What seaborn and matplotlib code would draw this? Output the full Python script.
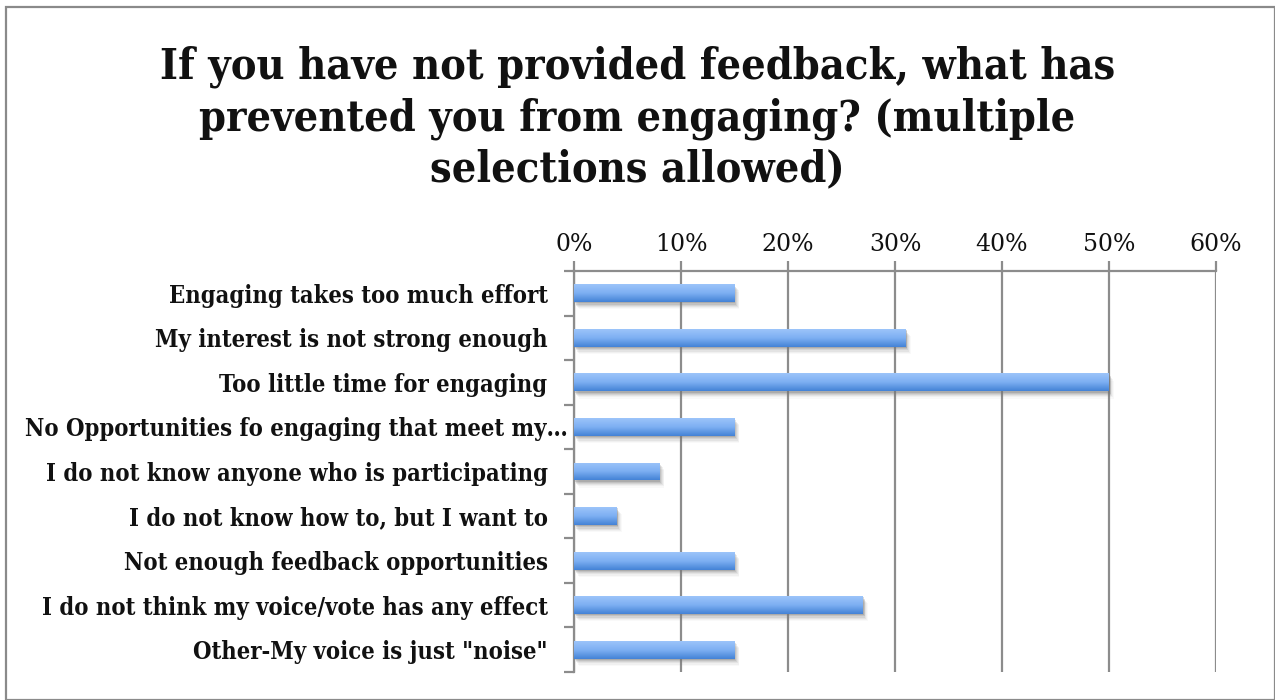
import numpy as np
import pandas as pd
import matplotlib
matplotlib.use("Agg")
import matplotlib.pyplot as plt
from matplotlib import font_manager
from matplotlib.patches import Rectangle
from matplotlib.ticker import FuncFormatter
import seaborn as sns

title = "If you have not provided feedback, what has\nprevented you from engaging? (multiple\nselections allowed)"
categories = [
    "Engaging takes too much effort",
    "My interest is not strong enough",
    "Too little time for engaging",
    "No Opportunities fo engaging that meet my…",
    "I do not know anyone who is participating",
    "I do not know how to, but I want to",
    "Not enough feedback opportunities",
    "I do not think my voice/vote has any effect",
    "Other-My voice is just \"noise\"",
]
shares = [0.15, 0.31, 0.50, 0.15, 0.08, 0.04, 0.15, 0.27, 0.15]
x_ticks = [0.0, 0.1, 0.2, 0.3, 0.4, 0.5, 0.6]

df = pd.DataFrame({"reason": categories, "share": shares})

sns.set_theme(style="white")
plt.rcParams["font.family"] = ["DejaVu Serif", "DejaVu Sans"]

cond = font_manager.FontProperties(family="DejaVu Serif", weight="bold", stretch="condensed")

fig = plt.figure(figsize=(12.75, 7.0), dpi=100)
ax = fig.add_axes([574 / 1275, 1 - 672 / 700, (1216 - 574) / 1275, (672 - 271) / 700])

sns.barplot(data=df, x="share", y="reason", orient="h", ax=ax,
            color="#6FA4EC", width=0.4, saturation=1, zorder=3, linewidth=0)

# vertical gradient fill with a soft drop shadow on every bar
grad = np.linspace(0, 1, 64).reshape(-1, 1)
cmap = matplotlib.colors.LinearSegmentedColormap.from_list(
    "bar", ["#9CC4FA", "#7DAFF2", "#4483D6"])
for bar in ax.patches:
    x0, y0 = bar.get_x(), bar.get_y()
    w, h = bar.get_width(), bar.get_height()
    for k, a in [(1, 0.28), (2, 0.2), (3, 0.15), (4, 0.1), (5, 0.07), (6, 0.04)]:
        off = matplotlib.transforms.ScaledTranslation(k * 0.008, -k * 0.012, fig.dpi_scale_trans)
        ax.add_patch(Rectangle((x0, y0), w, h, facecolor="#7a7a7a", edgecolor="none",
                               alpha=a, zorder=2, transform=ax.transData + off))
    im = ax.imshow(grad, cmap=cmap, aspect="auto", zorder=4,
                   extent=(x0, x0 + w, y0 + h, y0), interpolation="bilinear")
    im.set_clip_path(bar)
    bar.set_facecolor("none")
    bar.set_edgecolor("none")

ax.set_xlim(0, 0.6)
ax.set_xticks(x_ticks)
ax.xaxis.set_major_formatter(FuncFormatter(lambda v, p: f"{v * 100:.0f}%"))
ax.xaxis.tick_top()
ax.tick_params(axis="x", which="both", top=True, bottom=False, length=7, width=1.6,
               color="#8c8c8c", labelsize=17, pad=4, labelcolor="#111111")
ax.grid(axis="x", color="#8c8c8c", linewidth=1.6, zorder=0)
ax.set_axisbelow(True)

# category separators on the left spine
n = len(categories)
ax.set_yticks(np.arange(n + 1) - 0.5, minor=True)
ax.tick_params(axis="y", which="minor", left=True, length=7, width=1.6, color="#8c8c8c")
ax.tick_params(axis="y", which="major", left=False, labelsize=17, pad=13)
for lbl in ax.get_yticklabels():
    lbl.set_fontproperties(cond)
    lbl.set_fontsize(17)
    lbl.set_color("#111111")
    if lbl.get_text().endswith("…"):
        lbl.set_transform(lbl.get_transform() +
                          matplotlib.transforms.ScaledTranslation(0.2, 0, fig.dpi_scale_trans))
ax.set_ylim(n - 0.5, -0.5)
ax.set_xlabel("")
ax.set_ylabel("")

for side in ["right", "bottom"]:
    ax.spines[side].set_visible(False)
for side in ["left", "top"]:
    ax.spines[side].set_color("#8c8c8c")
    ax.spines[side].set_linewidth(1.6)

tp = cond.copy()
tp.set_size(31)
fig.text(0.5, 1 - 118 / 700, title, ha="center", va="center", fontproperties=tp,
         color="#111111", linespacing=1.26)

# outer chart frame
fig.add_artist(Rectangle((6 / 1275, 0), 1 - 6 / 1275, 1 - 7 / 700, transform=fig.transFigure,
                         facecolor="none", edgecolor="#8a8a8a", linewidth=1.6))

fig.savefig("out.png", dpi=100, facecolor="white")
